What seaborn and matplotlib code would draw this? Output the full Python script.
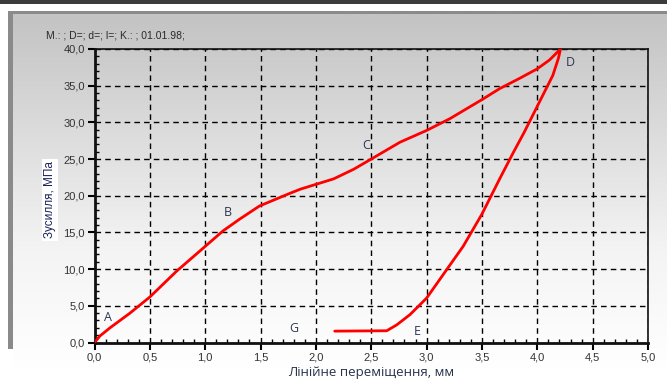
import numpy as np
import pandas as pd
import matplotlib
matplotlib.use("Agg")
import matplotlib.pyplot as plt
from matplotlib.ticker import MultipleLocator, FuncFormatter
from matplotlib.patches import Rectangle
import seaborn as sns

# Loading branch O -> A -> B -> C -> D
load_x = [0.0, 0.05, 0.14, 0.32, 0.50, 0.74, 1.00, 1.16, 1.31, 1.49, 1.76, 1.86,
          2.16, 2.34, 2.50, 2.76, 3.00, 3.21, 3.50, 3.66, 3.84, 4.00, 4.11, 4.21]
load_y = [0.0, 0.9, 2.0, 4.0, 6.2, 9.7, 13.1, 15.2, 16.8, 18.6, 20.3, 20.9,
          22.3, 23.6, 25.0, 27.3, 28.9, 30.5, 33.1, 34.6, 36.0, 37.3, 38.5, 40.0]

# Unloading branch D -> E -> G
unload_x = [4.21, 4.19, 4.14, 4.05, 3.96, 3.88, 3.78, 3.66, 3.50, 3.33, 3.18,
            3.00, 2.85, 2.73, 2.64, 2.17]
unload_y = [40.0, 38.7, 36.4, 33.7, 31.0, 28.6, 25.8, 22.3, 17.5, 13.1, 9.9,
            6.05, 3.8, 2.4, 1.6, 1.55]

# Point labels and their positions
point_names = ["A", "B", "C", "D", "E", "G"]
point_x = [0.12, 1.20, 2.45, 4.30, 2.92, 1.80]
point_y = [3.4, 17.7, 26.9, 38.2, 1.5, 1.9]

header = "M.: ; D=; d=; l=; K.: ; 01.01.98;"
x_label = "Лінійне переміщення, мм"
y_label = "Зусилля, МПа"

sns.set_theme(style="white")
plt.rcParams["font.family"] = ["Liberation Sans", "DejaVu Sans"]

W, H = 667, 381
fig = plt.figure(figsize=(W / 100, H / 100), dpi=100)
fig.patch.set_facecolor("white")

# Panel background with vertical gray-to-white gradient
bg = fig.add_axes([0, 0, 1, 1], zorder=0)
bg.set_xlim(0, W)
bg.set_ylim(H, 0)
bg.axis("off")
grad = np.linspace(0, 1, 256)[:, None]
cmap = matplotlib.colors.LinearSegmentedColormap.from_list(
    "panel", ["#c3c3c3", "#dcdcdc", "#f4f4f4", "#ffffff"])
bg.imshow(grad, cmap=cmap, extent=[13, W, 370, 14], aspect="auto", zorder=0)
bg.add_patch(Rectangle((0, 0), W, 3.5, color="#3c3c3c", zorder=1, lw=0))
bg.add_patch(Rectangle((8, 10.5), W - 8, 3.5, color="#8a8a8a", zorder=1, lw=0))
bg.add_patch(Rectangle((8, 10.5), 5, 338, color="#8a8a8a", zorder=1, lw=0))

ax = fig.add_axes([94.5 / W, 1 - 342.5 / H, (648 - 94.5) / W, (342.5 - 49) / H], zorder=2)
ax.set_facecolor("none")

curve = pd.DataFrame({
    "x": load_x + unload_x[1:],
    "y": load_y + unload_y[1:],
})
sns.lineplot(data=curve, x="x", y="y", sort=False, estimator=None,
             color="#ff0000", linewidth=2.0, ax=ax, zorder=5)

ax.set_xlim(0, 5)
ax.set_ylim(0, 40)
ax.xaxis.set_major_locator(MultipleLocator(0.5))
ax.xaxis.set_minor_locator(MultipleLocator(0.1))
ax.yaxis.set_major_locator(MultipleLocator(5))
ax.yaxis.set_minor_locator(MultipleLocator(1))
fmt = FuncFormatter(lambda v, p: f"{v:.1f}".replace(".", ","))
ax.xaxis.set_major_formatter(fmt)
ax.yaxis.set_major_formatter(fmt)

ax.grid(True, which="major", color="black", linestyle=(0, (4, 3)), linewidth=1.0)
ax.set_axisbelow(True)

ax.tick_params(axis="both", which="major", direction="out", length=5, width=1.5,
               color="black", labelsize=8, labelcolor="#333333", pad=2)
ax.tick_params(axis="both", which="minor", direction="in", length=3, width=1,
               color="black")
ax.tick_params(axis="x", which="both", bottom=True)
ax.tick_params(axis="y", which="both", left=True)

for side, lw in (("left", 2.0), ("bottom", 2.0), ("top", 1.2), ("right", 1.2)):
    ax.spines[side].set_visible(True)
    ax.spines[side].set_color("#111111")
    ax.spines[side].set_linewidth(lw)

ax.set_xlabel(x_label, fontsize=9.5, color="#27324a", family=["Open Sans", "DejaVu Sans"],
              labelpad=3)
ax.set_ylabel("")
fig.text(50 / W, 1 - 200 / H, y_label, rotation=90, ha="center", va="center",
         fontsize=8.5, color="#1a2358",
         bbox=dict(facecolor="white", edgecolor="none", pad=1.5), zorder=3)

fig.text(46 / W, 1 - 35 / H, header, ha="left", va="center", fontsize=7.5,
         color="#2a2a2a")

for name, px, py in zip(point_names, point_x, point_y):
    ax.text(px, py, name, ha="center", va="center", fontsize=9,
            color="#2c3650", family=["Open Sans", "DejaVu Sans"], zorder=6)

fig.savefig("out.png", dpi=100)
